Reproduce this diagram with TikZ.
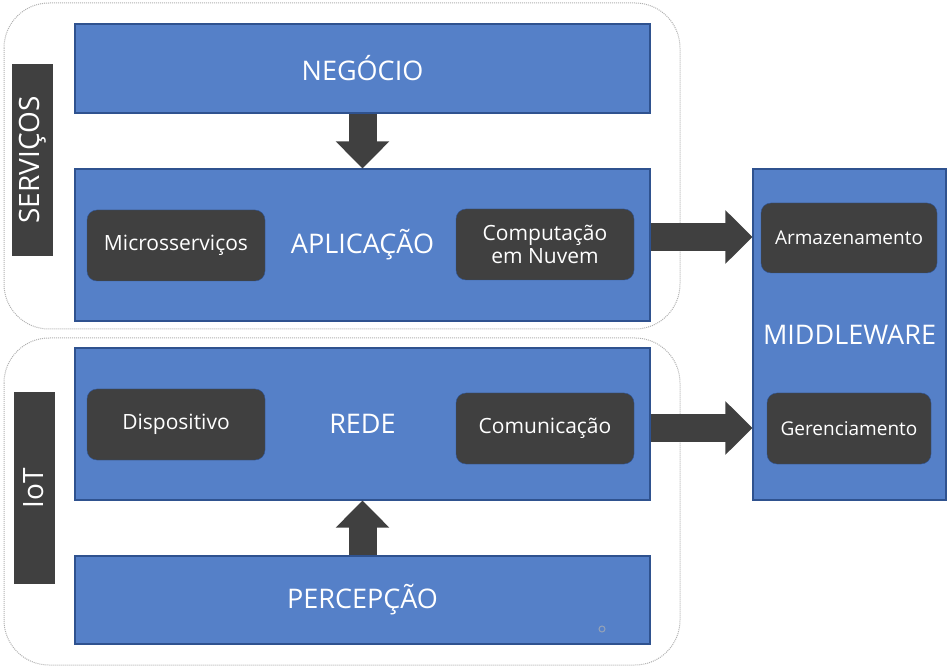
\documentclass[tikz,border=0pt]{standalone}
\usepackage{fontspec}
\setmainfont{Open Sans}
\usepackage{tikz}
\usetikzlibrary{arrows.meta}
\usetikzlibrary{positioning}

\definecolor{blockblue}{HTML}{5580C8}
\definecolor{blockline}{HTML}{2F528F}
\definecolor{darkbox}{HTML}{404040}
\definecolor{groupline}{HTML}{B0B0B0}

\tikzset{
  layer/.style={draw=blockline, fill=blockblue, line width=1.2pt, text=white,
    font=\fontsize{27}{30}\selectfont, minimum width=575pt, inner sep=0pt},
  part/.style={draw=blockline, fill=darkbox, rounded corners=10pt, text=white,
    font=\fontsize{21}{24}\selectfont, minimum width=178pt, minimum height=71pt,
    align=center, inner sep=0pt},
  tag/.style={fill=darkbox, text=white, rotate=90, font=\fontsize{28}{30}\selectfont,
    minimum width=192pt, minimum height=41pt, inner sep=0pt},
  group/.style={draw=groupline, densely dotted, line width=1pt, rounded corners=45pt},
  bigarrow/.style={draw=darkbox, line width=28pt, -{Triangle[length=27pt,width=52pt]}}
}

\begin{document}
\begin{tikzpicture}[x=1pt,y=-1pt]
\useasboundingbox (0,0) rectangle (951,668);
% groups
\draw[group] (4,3) rectangle (680,329);
\draw[group] (4,338) rectangle (680,665);
% side labels
\node[tag] (servicos) at (32.5,160) {SERVIÇOS};
\node[tag] (iot) at (34,488) {IoT};
% layers
\node[layer, minimum height=89pt] (negocio) at (362.5,68.5) {NEGÓCIO};
\node[layer, minimum height=152pt] (aplicacao) at (362.5,245) {APLICAÇÃO};
\node[layer, minimum height=152pt] (rede) at (362.5,424) {REDE};
\node[layer, minimum height=88pt] (percepcao) at (362.5,600) {PERCEPÇÃO};
% middleware
\node[layer, minimum width=193pt, minimum height=331pt] (middleware) at (849.5,334.5) {MIDDLEWARE};
% parts
\node[part] (micro) at (176,245.5) {Microsserviços};
\node[part] (nuvem) at (545,244.5) {Computação\\[-1pt]em Nuvem};
\node[part] (disp) at (176,424.5) {Dispositivo};
\node[part] (comun) at (545,428.5) {Comunicação};
\node[part, minimum width=176pt, minimum height=70pt, font=\fontsize{19}{22}\selectfont] (armaz) at (849,238) {Armazenamento};
\node[part, minimum width=164pt, minimum height=71pt, font=\fontsize{19}{22}\selectfont] (geren) at (849,428.5) {Gerenciamento};
% arrows
\draw[bigarrow] (negocio.south) -- (aplicacao.north);
\draw[bigarrow] (percepcao.north) -- (rede.south);
\draw[bigarrow] ([yshift=8pt]aplicacao.east) -- ([yshift=8pt]aplicacao.east -| middleware.west);
\draw[bigarrow] ([yshift=-4pt]rede.east) -- ([yshift=-4pt]rede.east -| middleware.west);
% handle
\draw[groupline!70!blockblue, line width=1pt] (602,629) circle (3);
\end{tikzpicture}
\end{document}
